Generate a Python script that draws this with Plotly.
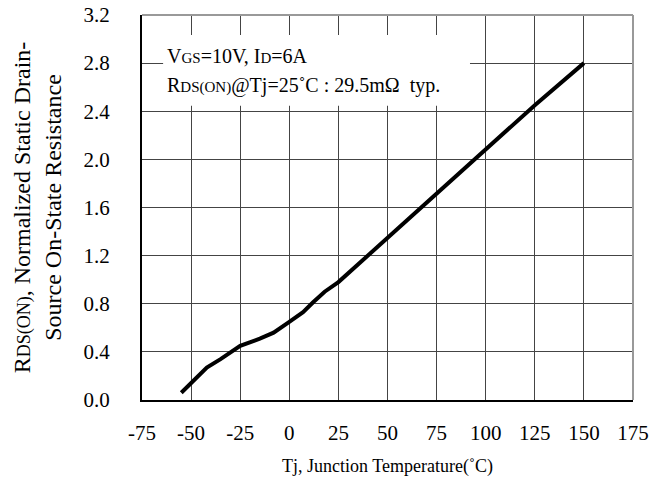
import plotly.graph_objects as go

temp = [-55, -48, -42, -35, -25, -15, -8, 0, 7, 12, 18, 25, 50, 75, 100, 125, 150]
rds = [0.06, 0.17, 0.27, 0.34, 0.45, 0.51, 0.56, 0.65, 0.73, 0.81, 0.90, 0.98, 1.35, 1.72, 2.09, 2.45, 2.80]

xticks = [-75, -50, -25, 0, 25, 50, 75, 100, 125, 150, 175]
yticks = [0.0, 0.4, 0.8, 1.2, 1.6, 2.0, 2.4, 2.8, 3.2]

FONT = "Liberation Serif"


def sub(t, size):
    return '<span style="font-size:%dpx">%s</span>' % (size, t)


fig = go.Figure()
fig.add_trace(go.Scatter(x=temp, y=rds, mode="lines",
                         line=dict(color="black", width=4), showlegend=False))

fig.add_shape(type="rect", xref="paper", yref="paper",
              x0=0.043, x1=0.668, y0=0.764, y1=0.948,
              fillcolor="white", line=dict(width=0), layer="above")

fig.add_annotation(xref="paper", yref="paper", x=0.046, y=0.894, xanchor="left", yanchor="middle",
                   showarrow=False, font=dict(family=FONT, size=20, color="black"),
                   text="V" + sub("GS", 15) + "=10V, I" + sub("D", 15) + "=6A")
fig.add_annotation(xref="paper", yref="paper", x=0.046, y=0.818, xanchor="left", yanchor="middle",
                   showarrow=False, font=dict(family=FONT, size=20, color="black"),
                   text="R" + sub("DS(ON)", 15) + "@Tj=25˚C : 29.5mΩ  typ.")

fig.update_layout(
    width=665, height=481,
    margin=dict(l=142, r=32, t=15, b=81),
    paper_bgcolor="white", plot_bgcolor="white",
    font=dict(family=FONT, size=21, color="black"),
    xaxis=dict(range=[-75, 175], tickvals=xticks, ticktext=[str(v) for v in xticks],
               showgrid=True, gridcolor="#444444", gridwidth=1,
               showline=True, linecolor="black", linewidth=2, mirror=False,
               zeroline=False, ticks="", ticklabelstandoff=13, automargin=False,
               tickfont=dict(family=FONT, size=21),
               title=dict(text="Tj, Junction Temperature(˚C)", standoff=15,
                          font=dict(family=FONT, size=18))),
    yaxis=dict(range=[0, 3.2], tickvals=yticks, ticktext=["%.1f" % v for v in yticks],
               showgrid=True, gridcolor="#444444", gridwidth=1,
               showline=True, linecolor="black", linewidth=2,
               zeroline=False, ticks="", ticklabelstandoff=26, automargin=False,
               tickfont=dict(family=FONT, size=21),
               title=dict(text="R" + sub("DS(ON)", 18) + ", Normalized Static Drain-<br>Source On-State Resistance",
                          standoff=15, font=dict(family=FONT, size=24))),
)
# gray top/right frame
fig.add_shape(type="line", xref="paper", yref="paper", x0=0, x1=1, y0=1, y1=1,
              line=dict(color="#999999", width=2))
fig.add_shape(type="line", xref="paper", yref="paper", x0=1, x1=1, y0=0, y1=1,
              line=dict(color="#999999", width=2))

fig.write_html("out.html", config={"displayModeBar": False},
               post_script="document.body.style.margin='0';")
